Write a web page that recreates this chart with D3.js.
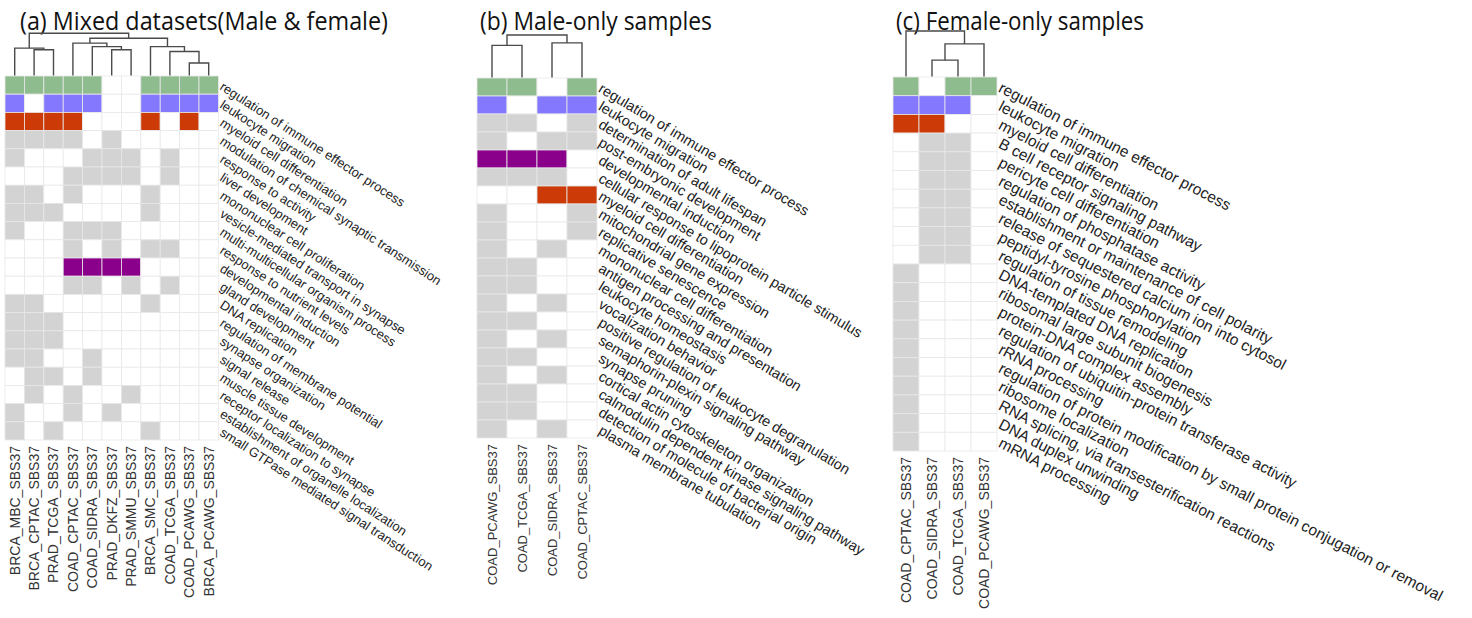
<!DOCTYPE html>
<html>
<head>
<meta charset="utf-8">
<script src="https://cdn.jsdelivr.net/npm/d3@7"></script>
<style>
  body { margin: 0; background: #fff; }
  svg { display: block; }
</style>
</head>
<body>
<svg id="chart" width="1472" height="618"></svg>
<script>
// ---------------- data ----------------
// (a) mixed datasets
const samplesA = ["BRCA_MBC_SBS37", "BRCA_CPTAC_SBS37", "PRAD_TCGA_SBS37", "COAD_CPTAC_SBS37",
  "COAD_SIDRA_SBS37", "PRAD_DKFZ_SBS37", "PRAD_SMMU_SBS37", "BRCA_SMC_SBS37",
  "COAD_TCGA_SBS37", "COAD_PCAWG_SBS37", "BRCA_PCAWG_SBS37"];
const termsA = ["regulation of immune effector process", "leukocyte migration", "myeloid cell differentiation",
  "modulation of chemical synaptic transmission", "response to activity", "liver development",
  "mononuclear cell proliferation", "vesicle-mediated transport in synapse", "multi-multicellular organism process",
  "response to nutrient levels", "developmental induction", "gland development", "DNA replication",
  "regulation of membrane potential", "synapse organization", "signal release", "muscle tissue development",
  "receptor localization to synapse", "establishment of organelle localization",
  "small GTPase mediated signal transduction"];
// one string per term, one digit per sample (1 = enriched)
const hitsA = ["11111001111", "10111001111", "11110001010", "11110100000", "10001110100",
  "00011110100", "11010001000", "11100001000", "10011100000", "00010101100",
  "00011110000", "00011010100", "11000001000", "11100000000", "11100000000",
  "11001000000", "01101000000", "01010010000", "10010100000", "10100001000"];
// dendrogram: [mergeHeight, left, right], leaves are sample indices
const treeA = [1.0, [0.649, 0, [0.609, 1, 2]],
  [0.883, [0.766, 3, [0.684, 4, [0.609, 5, 6]]], [0.684, 7, [0.57, 8, [0.297, 9, 10]]]]];

// (b) male-only samples
const samplesB = ["COAD_PCAWG_SBS37", "COAD_TCGA_SBS37", "COAD_SIDRA_SBS37", "COAD_CPTAC_SBS37"];
const termsB = ["regulation of immune effector process", "leukocyte migration", "determination of adult lifespan",
  "post-embryonic development", "developmental induction", "cellular response to lipoprotein particle stimulus",
  "myeloid cell differentiation", "mitochondrial gene expression", "replicative senescence",
  "mononuclear cell differentiation", "antigen processing and presentation", "leukocyte homeostasis",
  "vocalization behavior", "positive regulation of leukocyte degranulation", "semaphorin-plexin signaling pathway",
  "synapse pruning", "cortical actin cytoskeleton organization", "calmodulin dependent kinase signaling pathway",
  "detection of molecule of bacterial origin", "plasma membrane tubulation"];
const hitsB = ["1101", "1011", "1101", "1011", "1110", "1110", "0011", "1001", "1001", "1010",
  "1100", "1100", "1010", "1100", "1010", "1100", "1010", "1100", "1100", "1010"];
const treeB = [1.0, [0.756, 0, 1], [0.814, 2, 3]];

// (c) female-only samples
const samplesC = ["COAD_CPTAC_SBS37", "COAD_SIDRA_SBS37", "COAD_TCGA_SBS37", "COAD_PCAWG_SBS37"];
const termsC = ["regulation of immune effector process", "leukocyte migration", "myeloid cell differentiation",
  "B cell receptor signaling pathway", "pericyte cell differentiation", "regulation of phosphatase activity",
  "establishment or maintenance of cell polarity", "release of sequestered calcium ion into cytosol",
  "peptidyl-tyrosine phosphorylation", "regulation of tissue remodeling", "DNA-templated DNA replication",
  "ribosomal large subunit biogenesis", "protein-DNA complex assembly",
  "regulation of ubiquitin-protein transferase activity", "rRNA processing",
  "regulation of protein modification by small protein conjugation or removal", "ribosome localization",
  "RNA splicing, via transesterification reactions", "DNA duplex unwinding", "mRNA processing"];
const hitsC = ["1011", "1110", "1100", "0110", "0110", "0110", "0110", "0110", "0110", "0110",
  "1000", "1000", "1000", "1000", "1000", "1000", "1000", "1000", "1000", "1000"];
const treeC = [1.0, 0, [0.717, [0.359, 1, 2], 3]];

// terms shared across panels get their own colour
const highlightTerms = ["regulation of immune effector process", "leukocyte migration",
  "myeloid cell differentiation", "developmental induction"];
const highlightColors = ["#8fbc8f", "#8478ff", "#cc3a08", "#8b008b"];

const titles = ["(a) Mixed datasets(Male & female)", "(b) Male-only samples", "(c) Female-only samples"];

// ---------------- drawing ----------------
const svg = d3.select("#chart");
const termColor = d3.scaleOrdinal().domain(highlightTerms).range(highlightColors).unknown("#d3d3d3");

const panels = [
  { samples: samplesA, terms: termsA, hits: hitsA, tree: treeA, title: titles[0],
    x0: 5, y0: 76, cw: 19.4, ch: 18.2, treeTop: 33.3,
    tx: 20, ty: 30, tw: 368, rowFont: 13, angle: 33, colFont: 14 },
  { samples: samplesB, terms: termsB, hits: hitsB, tree: treeB, title: titles[1],
    x0: 477, y0: 78, cw: 30, ch: 18, treeTop: 35,
    tx: 480, ty: 30, tw: 232, rowFont: 14.5, angle: 31, colFont: 13 },
  { samples: samplesC, terms: termsC, hits: hitsC, tree: treeC, title: titles[2],
    x0: 893, y0: 77, cw: 26, ch: 18.7, treeTop: 31,
    tx: 896, ty: 30, tw: 248, rowFont: 15.5, angle: 27.5, colFont: 14 }
];

function toNode(n) {
  return Array.isArray(n) ? { h: n[0], children: [toNode(n[1]), toNode(n[2])] } : { h: 0, leaf: n };
}

panels.forEach(p => {
  const g = svg.append("g");
  const x = d3.scaleBand().domain(p.samples).range([p.x0, p.x0 + p.cw * p.samples.length]);
  const y = d3.scaleBand().domain(p.terms).range([p.y0, p.y0 + p.ch * p.terms.length]);
  const hScale = d3.scaleLinear().domain([0, 1]).range([p.y0 - 0.5, p.treeTop]);

  // title
  g.append("text")
    .attr("x", p.tx).attr("y", p.ty)
    .attr("textLength", p.tw).attr("lengthAdjust", "spacingAndGlyphs")
    .style("font-family", "'Open Sans', 'Noto Sans', sans-serif")
    .style("font-size", "25px")
    .style("fill", "#111")
    .text(p.title);

  // heatmap cells
  const cells = [];
  p.terms.forEach((t, i) => p.samples.forEach((s, j) => {
    cells.push({ term: t, sample: s, v: +p.hits[i][j] });
  }));
  g.append("g").selectAll("rect").data(cells).join("rect")
    .attr("x", d => x(d.sample))
    .attr("y", d => y(d.term))
    .attr("width", x.bandwidth())
    .attr("height", y.bandwidth())
    .attr("fill", d => d.v ? termColor(d.term) : "#ffffff")
    .attr("stroke", "#e8e8e8")
    .attr("stroke-width", 0.8);

  // dendrogram over the samples
  const root = d3.hierarchy(toNode(p.tree));
  root.eachAfter(n => {
    if (n.children) n.px = d3.mean(n.children, c => c.px);
    else n.px = x(p.samples[n.data.leaf]) + x.bandwidth() / 2;
    n.py = hScale(n.data.h);
  });
  const links = root.descendants().filter(n => n.children);
  g.append("g").selectAll("path").data(links).join("path")
    .attr("d", n => {
      const [a, b] = n.children;
      return `M${a.px},${a.py}V${n.py}H${b.px}V${b.py}`;
    })
    .attr("fill", "none")
    .attr("stroke", "#4a4a4a")
    .attr("stroke-width", 1.4);

  // slanted term labels to the right
  const right = p.x0 + p.cw * p.samples.length;
  g.append("g").selectAll("text").data(p.terms).join("text")
    .attr("transform", t => `translate(${right + 3},${y(t) + y.bandwidth() / 2}) rotate(${p.angle})`)
    .attr("dy", "0.35em")
    .style("font-family", "'Liberation Sans', Arial, sans-serif")
    .style("font-size", p.rowFont + "px")
    .style("fill", "#222")
    .text(t => t);

  // vertical sample labels below
  const bottom = p.y0 + p.ch * p.terms.length;
  g.append("g").selectAll("text").data(p.samples).join("text")
    .attr("transform", s => `translate(${x(s) + x.bandwidth() / 2},${bottom + 6}) rotate(-90)`)
    .attr("dy", "0.35em")
    .attr("text-anchor", "end")
    .style("font-family", "'Liberation Sans', Arial, sans-serif")
    .style("font-size", p.colFont + "px")
    .style("fill", "#333")
    .text(s => s);
});
</script>
</body>
</html>
